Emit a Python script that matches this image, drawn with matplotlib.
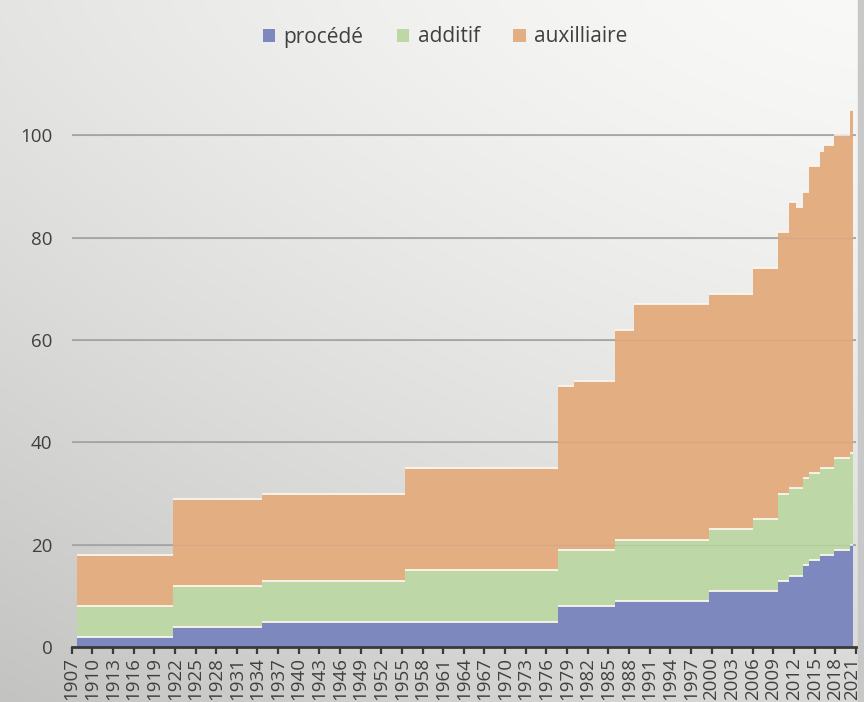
import numpy as np
import matplotlib
matplotlib.use("Agg")
import matplotlib.pyplot as plt
import matplotlib.transforms as mtransforms
from matplotlib.patches import Patch, Rectangle

plt.rcParams['font.family'] = ['Open Sans', 'DejaVu Sans']

# Change points (years) and values of each series from that point on
years = [1907.7, 1921.7, 1934.7, 1955.5, 1977.7, 1980.0, 1986.0, 1988.7, 1999.6,
         2006.1, 2009.6, 2011.3, 2012.3, 2013.3, 2014.1, 2015.7, 2016.4, 2017.8, 2020.2]
end_year = 2020.5
procede = [2, 4, 5, 5, 8, 8, 9, 9, 11, 11, 13, 14, 14, 16, 17, 18, 18, 19, 20]
additif = [6, 8, 8, 10, 11, 11, 12, 12, 12, 14, 17, 17, 17, 17, 17, 17, 17, 18, 18]
auxilliaire = [10, 17, 17, 20, 32, 33, 41, 46, 46, 49, 51, 56, 55, 56, 60, 62, 63, 63, 67]
series_names = ['procédé', 'additif', 'auxilliaire']
colors = ['#7d88bf', '#bdd8a6', '#e4ae83']
tick_years = list(range(1907, 2022, 3))
y_ticks = [0, 20, 40, 60, 80, 100]

W, H = 864, 702
fig = plt.figure(figsize=(W / 100, H / 100), dpi=100)

# gradient background
bg = fig.add_axes([0, 0, 1, 1], zorder=-10)
xn = np.linspace(0, 1, 300)[None, :]
yn = np.linspace(0, 1, 300)[:, None]
v = 0.975 - 0.08 * (1 - xn) ** 1.5 - 0.13 * yn ** 1.3
img = np.dstack([v, v, v * 0.995])
bg.imshow(np.clip(img, 0, 1), extent=[0, 1, 0, 1], origin='upper', aspect='auto')
bg.add_patch(Rectangle((0.9925, 0), 0.0075, 1, color='#c8c8c8', transform=bg.transAxes))
bg.axis('off')

left = 71.7 / W
right = 856.0 / W
bottom = (H - 647.2) / H
top = (H - 84.0) / H
ax = fig.add_axes([left, bottom, right - left, top - bottom])
ax.set_facecolor('none')

xs = np.array(years + [end_year])
vals = [np.array(procede + [procede[-1]]), np.array(additif + [additif[-1]]),
        np.array(auxilliaire + [auxilliaire[-1]])]
base = np.zeros_like(xs, dtype=float)
tops = []
for vv, c, name in zip(vals, colors, series_names):
    topv = base + vv
    ax.fill_between(xs, base, topv, step='post', color=c, linewidth=0, zorder=2, label=name)
    tops.append(topv)
    base = topv

# light top edges (horizontal parts only)
for topv in tops:
    ax.hlines(topv[:-1], xs[:-1], xs[1:], colors='#fbf6ee', linewidth=1.3, zorder=3)

ax.set_xlim(1907, 2021)
ax.set_ylim(0, 110)

# gridlines
for yv in y_ticks[1:]:
    ax.axhline(yv, color='#a8a8a8', linewidth=1.3, zorder=1)
    ax.axhline(yv, color='#808080', linewidth=1.0, alpha=0.15, zorder=4)

ax.set_yticks(y_ticks)
ax.set_yticklabels([str(t) for t in y_ticks])
ax.tick_params(axis='y', length=0, pad=14, labelsize=13.5, labelcolor='#404040')

ax.set_xticks(tick_years)
ax.set_xticklabels([str(t) for t in tick_years], rotation=90)
ax.tick_params(axis='x', direction='out', length=5, width=1.6, color='#3a3a3a',
               pad=2, labelsize=13.5, labelcolor='#404040')
last_lbl = ax.get_xticklabels()[-1]
last_lbl.set_transform(last_lbl.get_transform() +
                       mtransforms.ScaledTranslation(-4 / 100, 0, fig.dpi_scale_trans))

for s in ['left', 'right', 'top']:
    ax.spines[s].set_visible(False)
ax.spines['bottom'].set_color('#3a3a3a')
ax.spines['bottom'].set_linewidth(2)
ax.spines['bottom'].set_zorder(5)

handles = [Patch(facecolor=c, edgecolor='none') for c in colors]
fig.legend(handles, series_names, loc='center', bbox_to_anchor=(445 / W, 1 - 37 / H),
           ncol=3, frameon=False, fontsize=15, labelcolor='#404040',
           handlelength=0.6, handleheight=0.6, handletextpad=0.4, columnspacing=1.6)

fig.savefig('out.png', dpi=100)
